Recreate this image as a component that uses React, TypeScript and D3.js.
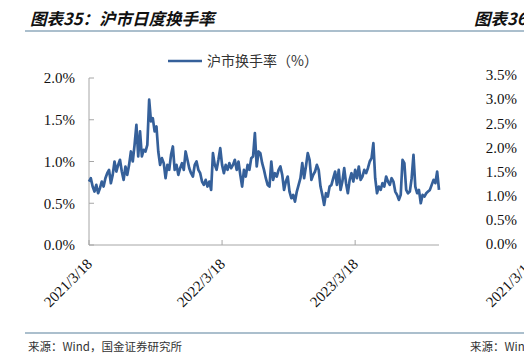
import React from 'react';
import * as d3 from 'd3';

const TITLE = '图表35：沪市日度换手率';
const TITLE_RIGHT = '图表36';
const LEGEND_LABEL = '沪市换手率（%）';
const SOURCE = '来源：Wind，国金证券研究所';

const START_DATE = '2021-03-18';
const END_DATE = '2023-11-03';
const STEP_DAYS = 5;

const turnover = [
  0.76, 0.8, 0.7, 0.64, 0.72, 0.62, 0.68, 0.76, 0.7, 0.8,
  0.86, 0.9, 0.74, 0.84, 1.0, 0.88, 0.96, 1.02, 0.88, 0.78,
  0.94, 0.84, 0.96, 1.12, 1.0, 1.2, 1.44, 1.06, 1.36, 1.06,
  1.14, 1.12, 1.2, 1.74, 1.48, 1.52, 1.36, 1.42, 1.12, 0.96,
  1.04, 0.98, 0.8, 0.96, 0.9, 1.08, 1.18, 0.9, 0.96, 0.84,
  0.92, 0.98, 0.9, 1.12, 1.02, 0.92, 0.86, 0.82, 0.96, 1.0,
  0.9, 0.86, 0.76, 0.72, 0.78, 0.7, 0.76, 0.66, 1.1, 0.96,
  0.9, 1.02, 1.16, 0.96, 0.86, 0.96, 0.9, 0.98, 0.92, 0.96,
  1.02, 0.9, 1.0, 0.84, 0.7, 0.9, 0.82, 0.96, 0.9, 1.04,
  1.06, 1.34, 0.94, 1.12,
  1.1, 0.98, 0.9, 0.8, 0.72, 0.7, 1.0, 0.78, 0.86, 0.82,
  0.9, 0.94, 0.84, 0.66, 0.76, 0.82, 0.64, 0.56, 0.6, 0.52,
  0.64, 0.72, 0.8, 0.98, 0.8, 0.94, 1.1, 1.02, 0.78, 0.84,
  0.88, 0.96, 0.9, 0.7, 0.6, 0.48, 0.62, 0.58, 0.7, 0.72,
  0.8, 0.88, 0.72, 0.9, 0.66, 0.76, 0.92, 0.74, 0.62, 0.78,
  0.86, 0.76, 0.9, 0.8, 0.94, 0.78, 0.82, 0.9, 0.86, 0.92,
  1.0, 1.04, 1.22, 0.8, 0.62, 0.7, 0.66, 0.74, 0.7, 0.82,
  0.76, 0.72, 0.8, 0.76, 0.64, 0.6, 0.54, 0.6, 1.02, 0.98,
  0.66, 0.62, 0.64, 0.8, 1.08, 0.7, 0.62, 0.66, 0.5, 0.6,
  0.58, 0.62, 0.64, 0.66, 0.72, 0.78, 0.74, 0.88, 0.66,
];

const yTicks = [0, 0.5, 1.0, 1.5, 2.0];
const xTickDates = ['2021-03-18', '2022-03-18', '2023-03-18'];
const xTickLabels = ['2021/3/18', '2022/3/18', '2023/3/18'];
const rightYTicks = [0, 0.5, 1.0, 1.5, 2.0, 2.5, 3.0, 3.5];
const rightXTickLabels = ['2021/3/18'];

const parse = d3.timeParse('%Y-%m-%d');

const CJK = 'Noto Sans CJK SC, sans-serif';

export default function App() {
  const W = 524;
  const H = 356;
  const left = 89;
  const right = 439;
  const top = 78;
  const bottom = 245;

  const start = parse(START_DATE) as Date;
  const end = parse(END_DATE) as Date;
  const data = turnover.map((v, i) => ({ date: d3.timeDay.offset(start, i * STEP_DAYS), v }));

  const x = d3.scaleTime().domain([start, end]).range([left, right]);
  const y = d3.scaleLinear().domain([0, 2]).range([bottom, top]);
  const yR = d3.scaleLinear().domain([0, 3.5]).range([244, 75]);

  const line = d3
    .line<{ date: Date; v: number }>()
    .x((d) => x(d.date))
    .y((d) => y(d.v))
    .curve(d3.curveLinear);

  const axisColor = '#a6a6a6';
  const lineColor = '#35609a';

  return (
    <svg
      width={W}
      height={H}
      style={{ position: 'absolute', left: 0, top: 0, background: '#fff' }}
    >
      <style>{`.serif { font-family: "Liberation Serif", "Times New Roman", "DejaVu Serif", serif !important; font-size: 15px; fill: #111; }`}</style>
      {/* titles */}
      <text x={30} y={25} fontFamily={CJK} fontSize={16.5} fontWeight="bold" fontStyle="italic" fill="#111">
        {TITLE}
      </text>
      <text x={474} y={25} fontFamily={CJK} fontSize={16.5} fontWeight="bold" fontStyle="italic" fill="#111">
        {TITLE_RIGHT}
      </text>
      <line x1={25} x2={524} y1={31} y2={31} stroke="#8faabd" strokeWidth={1.3} />

      {/* legend */}
      <line x1={168} x2={202} y1={61} y2={61} stroke={lineColor} strokeWidth={2.5} />
      <text x={207} y={66} fontFamily={CJK} fontSize={14} fill="#333">
        {LEGEND_LABEL}
      </text>

      {/* y axis */}
      <line x1={left} x2={left} y1={y(2)} y2={bottom} stroke={axisColor} strokeWidth={1} />
      {yTicks.map((t) => (
        <g key={'y' + t}>
          <line x1={left} x2={left + 5} y1={y(t)} y2={y(t)} stroke={axisColor} />
          <text className="serif" x={75} y={y(t)} dy="0.35em" textAnchor="end">
            {t.toFixed(1) + '%'}
          </text>
        </g>
      ))}

      {/* x axis */}
      <line x1={left} x2={right} y1={bottom} y2={bottom} stroke={axisColor} strokeWidth={1} />
      {xTickDates.map((d, i) => {
        const xx = x(parse(d) as Date);
        return (
          <g key={d}>
            <line x1={xx} x2={xx} y1={bottom} y2={bottom - 5} stroke={axisColor} />
            <text className="serif" transform={`translate(${xx + 4},${bottom + 20}) rotate(-45)`} textAnchor="end">
              {xTickLabels[i]}
            </text>
          </g>
        );
      })}

      {/* right partial chart */}
      {rightYTicks.map((t) => (
        <text className="serif" key={'r' + t} x={517} y={yR(t)} dy="0.35em" textAnchor="end">
          {t.toFixed(1) + '%'}
        </text>
      ))}
      {rightXTickLabels.map((l) => (
        <text className="serif" key={'rx' + l} transform={`translate(${535},${bottom + 20}) rotate(-45)`} textAnchor="end">
          {l}
        </text>
      ))}

      {/* series */}
      <path d={line(data) || ''} fill="none" stroke={lineColor} strokeWidth={2.7} strokeLinejoin="round" />

      {/* footer */}
      <line x1={25} x2={524} y1={333} y2={333} stroke="#8faabd" strokeWidth={1.3} />
      <text x={28} y={351} fontFamily={CJK} fontSize={11.5} fill="#333">
        {SOURCE}
      </text>
      <text x={470} y={351} fontFamily={CJK} fontSize={11.5} fill="#333">
        {SOURCE}
      </text>
    </svg>
  );
}
